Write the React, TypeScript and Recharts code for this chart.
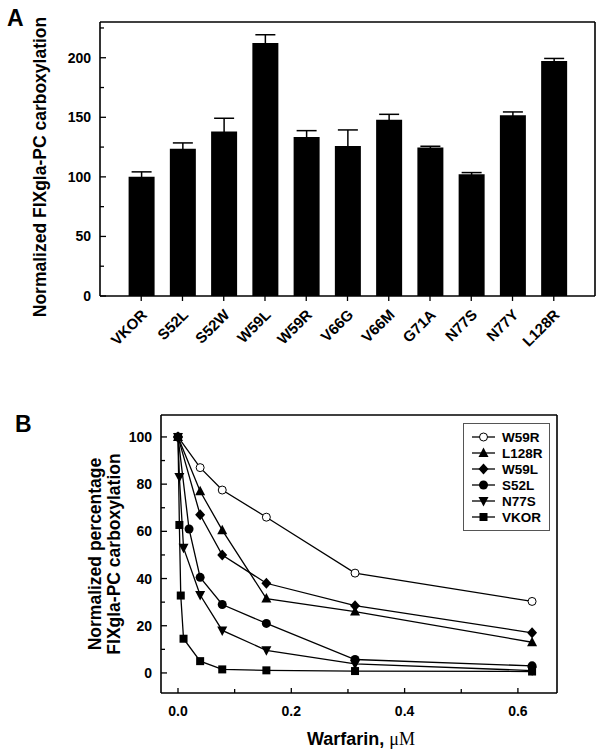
import React from "react";
import { BarChart, Bar, ErrorBar, XAxis, YAxis, LineChart, Line, Legend } from "recharts";

const FONT = "'Liberation Sans', Arial, sans-serif";

// Panel A - carboxylation of the mutants
const mutants = ["VKOR", "S52L", "S52W", "W59L", "W59R", "V66G", "V66M", "G71A", "N77S", "N77Y", "L128R"];
const activity = [100, 123.5, 138, 212.3, 133.5, 126, 148, 124.6, 102.2, 151.7, 197.2];
const activityErr = [4.2, 5, 11.2, 7, 5.3, 13.4, 4.5, 1.1, 1.4, 2.8, 2.2];
const yTicksA = [0, 25, 50, 75, 100, 125, 150, 175, 200, 225];

// Panel B - warfarin dose response
const concMain = [0, 0.0391, 0.0781, 0.156, 0.3125, 0.625];
const w59rPct = [100, 87, 77.5, 66, 42.3, 30.3];
const l128rPct = [100, 77, 60.5, 31.5, 26, 13];
const w59lPct = [100, 67, 50, 38, 28.5, 17];
const s52lConc = [0, 0.0195, 0.0391, 0.0781, 0.156, 0.3125, 0.625];
const s52lPct = [100, 61, 40.5, 29, 21, 5.7, 3];
const n77sConc = [0, 0.00244, 0.00977, 0.0391, 0.0781, 0.156, 0.3125, 0.625];
const n77sPct = [100, 83, 53, 33, 18, 9.6, 3.8, 1];
const vkorConc = [0, 0.00244, 0.00488, 0.00977, 0.0391, 0.0781, 0.156, 0.3125, 0.625];
const vkorPct = [100, 62.7, 32.8, 14.5, 5, 1.5, 1.1, 0.8, 0.6];
const yTicksB = [0, 10, 20, 30, 40, 50, 60, 70, 80, 90, 100];
const xTicksB = [0, 0.1, 0.2, 0.3, 0.4, 0.5, 0.6];

const barData = mutants.map((name, i) => ({ name, value: activity[i], err: activityErr[i] }));

const seriesB = [
  { name: "W59R", conc: concMain, pct: w59rPct, shape: "openCircle" },
  { name: "L128R", conc: concMain, pct: l128rPct, shape: "triangle" },
  { name: "W59L", conc: concMain, pct: w59lPct, shape: "diamond" },
  { name: "S52L", conc: s52lConc, pct: s52lPct, shape: "circle" },
  { name: "N77S", conc: n77sConc, pct: n77sPct, shape: "triangleDown" },
  { name: "VKOR", conc: vkorConc, pct: vkorPct, shape: "square" },
];

const Marker = ({ shape, cx, cy }) => {
  if (cx == null || cy == null) return null;
  switch (shape) {
    case "openCircle":
      return <circle cx={cx} cy={cy} r={4} fill="#fff" stroke="#000" strokeWidth={1} />;
    case "circle":
      return <circle cx={cx} cy={cy} r={4.5} fill="#000" />;
    case "triangle":
      return <polygon points={`${cx},${cy - 5.5} ${cx + 5},${cy + 4} ${cx - 5},${cy + 4}`} fill="#000" />;
    case "triangleDown":
      return <polygon points={`${cx - 5},${cy - 4} ${cx + 5},${cy - 4} ${cx},${cy + 5.5}`} fill="#000" />;
    case "diamond":
      return <polygon points={`${cx},${cy - 5.5} ${cx + 5},${cy} ${cx},${cy + 5.5} ${cx - 5},${cy}`} fill="#000" />;
    default:
      return <rect x={cx - 4} y={cy - 4} width={8} height={8} fill="#000" />;
  }
};

// y ticks drawn inward, labels only on major values
const LeftTick = ({ x, y, payload, isMajor }) => {
  const major = isMajor(payload.value);
  return (
    <g>
      <line x1={x} x2={x + (major ? 6 : 4)} y1={y} y2={y} stroke="#000" strokeWidth={1.3} />
      {major && (
        <text x={x - 9} y={y} dy="0.36em" textAnchor="end" fontFamily={FONT} fontWeight="bold" fontSize={14} fill="#000">
          {payload.value}
        </text>
      )}
    </g>
  );
};

const CatTick = ({ x, y, payload }) => (
  <g>
    <line x1={x} x2={x} y1={y} y2={y + 5} stroke="#000" strokeWidth={1.3} />
    <text
      x={x + 3}
      y={y + 16}
      dy="0.35em"
      textAnchor="end"
      transform={`rotate(-45, ${x + 3}, ${y + 16})`}
      fontFamily={FONT}
      fontWeight="bold"
      fontSize={15}
      fill="#000"
    >
      {payload.value}
    </text>
  </g>
);

const BottomTickB = ({ x, y, payload }) => {
  const major = Math.round(payload.value * 10) % 2 === 0;
  return (
    <g>
      <line x1={x} x2={x} y1={y} y2={y - (major ? 5 : 4)} stroke="#000" strokeWidth={1.3} />
      {major && (
        <text x={x} y={y + 23} textAnchor="middle" fontFamily={FONT} fontWeight="bold" fontSize={14} fill="#000">
          {payload.value.toFixed(1)}
        </text>
      )}
    </g>
  );
};

const LegendBox = () => (
  <svg width={87} height={108} style={{ display: "block" }}>
    <rect x={0.5} y={0.5} width={86} height={107} fill="#fff" stroke="#555" strokeWidth={1} />
    {seriesB.map((s, i) => {
      const cy = 14 + i * 16;
      return (
        <g key={s.name}>
          <line x1={9} x2={32} y1={cy} y2={cy} stroke="#000" strokeWidth={1.3} />
          <Marker shape={s.shape} cx={20.5} cy={cy} />
          <text x={39} y={cy + 5} fontFamily={FONT} fontWeight="bold" fontSize={13.5} fill="#000">
            {s.name}
          </text>
        </g>
      );
    })}
  </svg>
);

const axisStroke = { stroke: "#000", strokeWidth: 1.6 };

export default function App() {
  return (
    <div style={{ position: "absolute", left: 0, top: 0, width: 602, height: 753, background: "#fff" }}>
      <div style={{ position: "absolute", left: 0, top: 0 }}>
        <BarChart width={602} height={370} data={barData} margin={{ top: 21, right: 6, bottom: 0, left: 50 }}>
          <XAxis
            dataKey="name"
            height={74}
            interval={0}
            padding={{ left: 20.6, right: 20.6 }}
            tickSize={0}
            tickMargin={0}
            tickLine={false}
            axisLine={axisStroke}
            tick={(p) => <CatTick {...p} />}
          />
          <XAxis xAxisId="top" dataKey="name" orientation="top" height={1} tick={false} tickLine={false} axisLine={axisStroke} />
          <YAxis
            width={50}
            domain={[0, 230]}
            ticks={yTicksA}
            interval={0}
            allowDataOverflow
            tickSize={0}
            tickMargin={0}
            tickLine={false}
            axisLine={axisStroke}
            tick={(p) => <LeftTick {...p} isMajor={(v) => v % 50 === 0} />}
            label={{
              content: ({ viewBox }) => {
                const lx = viewBox.x - 4;
                const ly = viewBox.y + viewBox.height / 2 + 8;
                return (
                  <text x={lx} y={ly} transform={`rotate(-90, ${lx}, ${ly})`} textAnchor="middle" fontFamily={FONT} fontWeight="bold" fontSize={17.5} fill="#000">
                    Normalized FIXgla-PC carboxylation
                  </text>
                );
              },
            }}
          />
          <YAxis yAxisId="right" orientation="right" width={1} domain={[0, 230]} tick={false} tickLine={false} axisLine={axisStroke} />
          <Bar dataKey="value" fill="#000" barSize={26} isAnimationActive={false}>
            <ErrorBar dataKey="err" width={10} strokeWidth={1.5} stroke="#000" direction="y" isAnimationActive={false} />
          </Bar>
        </BarChart>
      </div>

      <div style={{ position: "absolute", left: 0, top: 370 }}>
        <LineChart width={602} height={383} margin={{ top: 44, right: 44, bottom: 0, left: 111 }}>
          <XAxis
            type="number"
            dataKey="x"
            domain={[-0.03, 0.669]}
            allowDataOverflow
            ticks={xTicksB}
            interval={0}
            height={60}
            tickSize={0}
            tickMargin={0}
            tickLine={false}
            axisLine={axisStroke}
            tick={(p) => <BottomTickB {...p} />}
            label={{
              content: ({ viewBox }) => (
                <text x={viewBox.x + viewBox.width / 2 + 2} y={viewBox.y + 52} textAnchor="middle" fill="#000" fontSize={18}>
                  <tspan fontFamily={FONT} fontWeight="bold">Warfarin, </tspan>
                  <tspan fontFamily="'Liberation Serif', 'DejaVu Serif', serif">μM</tspan>
                </text>
              ),
            }}
          />
          <XAxis xAxisId="top" type="number" orientation="top" domain={[-0.03, 0.669]} allowDataOverflow height={1} tick={false} tickLine={false} axisLine={axisStroke} />
          <YAxis
            width={50}
            domain={[-8.5, 109.3]}
            allowDataOverflow
            ticks={yTicksB}
            interval={0}
            tickSize={0}
            tickMargin={0}
            tickLine={false}
            axisLine={axisStroke}
            tick={(p) => <LeftTick {...p} isMajor={(v) => v % 20 === 0} />}
            label={{
              content: ({ viewBox }) => {
                const cy = viewBox.y + viewBox.height / 2;
                const x1 = viewBox.x - 10;
                const x2 = viewBox.x + 9;
                return (
                  <g fontFamily={FONT} fontWeight="bold" fontSize={17.5} fill="#000">
                    <text x={x1} y={cy} transform={`rotate(-90, ${x1}, ${cy})`} textAnchor="middle">
                      Normalized percentage
                    </text>
                    <text x={x2} y={cy} transform={`rotate(-90, ${x2}, ${cy})`} textAnchor="middle">
                      FIXgla-PC carboxylation
                    </text>
                  </g>
                );
              },
            }}
          />
          <YAxis yAxisId="right" orientation="right" width={1} domain={[-8.5, 109.3]} allowDataOverflow tick={false} tickLine={false} axisLine={axisStroke} />
          <Legend
            layout="vertical"
            align="center"
            verticalAlign="middle"
            wrapperStyle={{ left: 463, top: 53, width: 87, height: 108 }}
            content={() => <LegendBox />}
          />
          {seriesB.map((s) => (
            <Line
              key={s.name}
              name={s.name}
              data={s.conc.map((x, i) => ({ x, y: s.pct[i] }))}
              dataKey="y"
              type="linear"
              stroke="#000"
              strokeWidth={1.3}
              isAnimationActive={false}
              dot={(p) => <Marker key={`${s.name}-${p.index}`} shape={s.shape} cx={p.cx} cy={p.cy} />}
              activeDot={false}
            />
          ))}
        </LineChart>
      </div>

      <svg width={602} height={753} style={{ position: "absolute", left: 0, top: 0, pointerEvents: "none" }}>
        <text x={7} y={26} fontFamily={FONT} fontWeight="bold" fontSize={23} fill="#000">A</text>
        <text x={15} y={432} fontFamily={FONT} fontWeight="bold" fontSize={23} fill="#000">B</text>
      </svg>
    </div>
  );
}
